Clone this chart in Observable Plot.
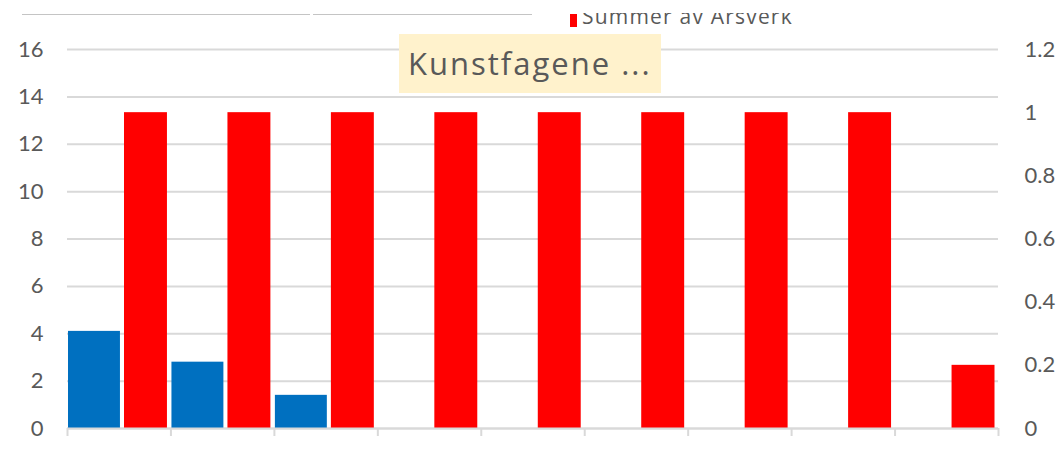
<!DOCTYPE html>
<html><head><meta charset="utf-8">
<script src="https://cdn.jsdelivr.net/npm/d3@7"></script>
<script src="https://cdn.jsdelivr.net/npm/@observablehq/plot@0.6"></script>
<style>
body{margin:0;background:#fff;font-family:Lato,"Open Sans",sans-serif;}
#wrap{position:relative;width:1056px;height:476px;overflow:hidden;background:#fff;}
#chart{position:absolute;left:0;top:0;}
.topline{position:absolute;top:14px;height:1px;background:#c4c4c4;}
#legend{position:absolute;left:570px;top:13px;height:15px;overflow:hidden;white-space:nowrap;}
#legend .sw{display:inline-block;width:7px;height:13px;background:#ff0000;vertical-align:top;margin-top:1px;}
#legend .lt{display:inline-block;font-family:"Open Sans",sans-serif;font-size:21px;line-height:21px;color:#595959;margin-left:5px;vertical-align:top;margin-top:-7px;letter-spacing:1.2px;}
#title{position:absolute;left:399px;top:34px;width:262px;height:59px;background:#fff2cc;color:#595959;font-family:"Open Sans",sans-serif;font-size:31px;line-height:59px;padding-left:9px;box-sizing:border-box;white-space:nowrap;letter-spacing:2px;}
</style></head>
<body>
<div id="wrap">
  <div id="chart"></div>
  <div class="topline" style="left:22px;width:288px"></div>
  <div class="topline" style="left:313px;width:219px"></div>
  <div id="legend"><span class="sw"></span><span class="lt">Summer av Årsverk</span></div>
  <div id="title">Kunstfagene ...</div>
</div>
<script>
const categories = ["1","2","3","4","5","6","7","8","9"];
const blueValues = [4.1, 2.8, 1.4, null, null, null, null, null, null];
const redValues = [1, 1, 1, 1, 1, 1, 1, 1, 0.2];
const leftTicks = [0, 2, 4, 6, 8, 10, 12, 14, 16];
const rightTicks = [0, 0.2, 0.4, 0.6, 0.8, 1, 1.2];
const leftMax = 16, rightMax = 1.2;
const toLeft = v => v * leftMax / rightMax;

const blueData = categories.map((c, i) => ({c, i, v: blueValues[i]})).filter(d => d.v != null);
const redData = categories.map((c, i) => ({c, i, v: redValues[i]}));
const boundaries = d3.range(0, categories.length + 1);

const chart = Plot.plot({
  width: 1056, height: 476,
  marginLeft: 67, marginRight: 58, marginTop: 49, marginBottom: 48,
  style: {fontFamily: "Lato, 'Open Sans', sans-serif", fontSize: "22px", color: "#595959", background: "transparent"},
  x: {type: "linear", domain: [0, categories.length], label: null},
  y: {domain: [0, leftMax], label: null},
  marks: [
    Plot.ruleY(leftTicks, {stroke: "#d9d9d9", strokeWidth: 2}),
    Plot.rectY(blueData, {x1: "i", x2: d => d.i + 1, y1: 0, y2: "v", fill: "#0070c0", insetLeft: 1, insetRight: 50.5}),
    Plot.rectY(redData, {x1: "i", x2: d => d.i + 1, y1: 0, y2: d => toLeft(d.v), fill: "#ff0000", insetLeft: 57, insetRight: 3.5}),
    Plot.axisY(leftTicks, {anchor: "left", tickSize: 0, tickPadding: 24, fill: "#595959", label: null}),
    Plot.axisY(rightTicks.map(toLeft), {anchor: "right", tickSize: 0, tickPadding: 26, fill: "#595959", label: null,
      tickFormat: d => String(+(d * rightMax / leftMax).toFixed(1)), textAnchor: "start"}),
    Plot.axisX(boundaries, {anchor: "bottom", tickSize: 8, tickFormat: () => "", stroke: "#d9d9d9", strokeWidth: 2, label: null}),
    Plot.ruleY([0], {stroke: "#d9d9d9", strokeWidth: 2})
  ]
});
document.getElementById("chart").appendChild(chart);
</script>
</body></html>
